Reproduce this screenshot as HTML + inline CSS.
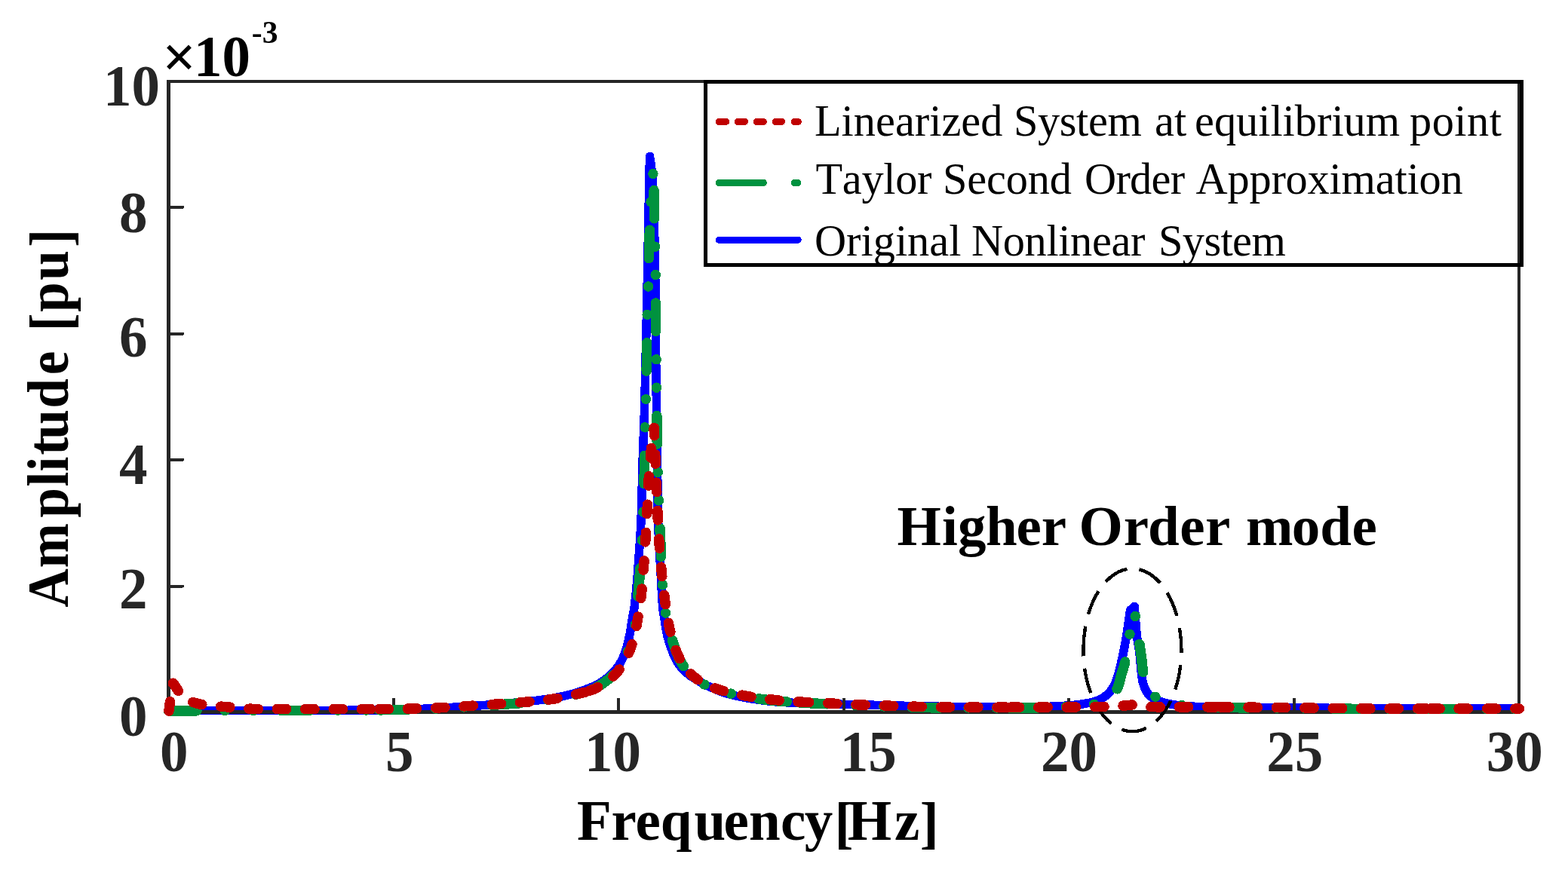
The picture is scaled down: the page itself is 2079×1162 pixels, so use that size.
<!DOCTYPE html>
<html lang="en"><head><meta charset="utf-8"><title>Frequency spectrum</title>
<style>html,body{margin:0;padding:0;background:#fff;overflow:hidden}svg{display:block}text{font-family:"Liberation Serif","DejaVu Serif",serif;white-space:pre}.b{font-weight:bold;font-size:75px}.t{fill:#262626}.l{font-size:58.33px;fill:#000}.c{fill:none;stroke-linejoin:round;stroke-linecap:round}</style>
</head><body>
<svg width="2079" height="1162" viewBox="0 0 2079 1162" shape-rendering="crispEdges">
<rect x="0" y="0" width="2079" height="1162" fill="#fff"/>
<path class="c" d="M223.5 942.4L297.6 942.3L441.7 942.4L481.8 942.1L527.8 941.3L541.8 941L557.8 940.4L583.8 939.3L593.8 938.7L639.8 935.6L667.7 933.4L683.7 932.1L697.6 930.7L711.6 929.2L723.5 927.6L733.3 926.1L741.2 924.6L751 922.4L760.7 919.9L768.3 917.6L775.9 914.9L785.2 911.2L790.7 908.7L794.2 906.8L795.9 905.7L800.9 902.4L805.7 898.6L808.7 896L811.6 893.3L815.7 888.8L818.2 885.7L819.4 884.1L821.6 880.8L824.5 875.6L827.1 870.1L829.2 864.4L831.5 856.8L833.4 849L835.1 841.1L836.1 835.2L838.6 819.4L841.1 805.6L841.6 801.6L842.5 793.7L843.9 779.8L845.1 765.8L848.5 717.8L849.6 699.8L850.2 685.8L852.4 601.8L852.8 589.8L853.8 565.8L854.7 537.8L856.1 475.7L857.9 395.7L859.9 287.6L861.5 207.5L863 217.4L864.1 225.4L864.8 231.3L865.3 237.3L866.1 257.3L867.2 297.3L868.2 327.3L868.4 337.3L868.7 361.3L869.4 453.4L870.5 545.5L871.4 595.5L871.9 651.5L872.2 673.6L872.8 695.6L873.6 717.6L875.6 751.5L877.6 789.5L878.6 805.5L879.3 811.4L880.7 819.3L882.5 831.2L883.5 837.2L884.8 843L886.3 848.8L888.8 856.5L891.5 864L893 867.7L894.7 871.4L897.3 876.8L899.4 880.2L901.7 883.4L902.9 885L905.6 888.1L908.5 890.9L909.9 892.2L913 894.7L916.2 897.1L921.3 900.4L928.2 904.5L933.4 907.4L938.8 910.1L944.3 912.6L951.7 915.7L957.3 917.8L963 919.7L968.8 921.3L976.6 923.2L984.4 924.8L994.3 926.5L1004.2 928.1L1012.1 929.1L1020.1 930.1L1028.1 930.8L1040 931.6L1050 932.2L1062 932.8L1078 933.4L1092 933.8L1134.1 934.6L1188.1 936L1234.1 937.1L1254.1 937.4L1270.1 937.6L1334.2 937.8L1382.2 937.8L1388.2 937.5L1398.2 936.9L1414.2 936.1L1420.2 935.7L1428.2 934.9L1436.1 933.8L1442 932.7L1445.9 931.9L1451.8 930.3L1455.6 928.9L1457.5 928.2L1461 926.5L1462.6 925.5L1464.3 924.4L1467.6 921.8L1469.1 920.4L1471.8 917.4L1474.2 914.4L1475.3 912.7L1477.3 909.2L1478.2 907.3L1479.8 903.6L1481.1 899.9L1482.3 896.1L1483.9 890.2L1485.8 882.4L1488 872.7L1491.6 855L1493.3 845.2L1495.2 833.3L1498.5 809.5L1504.2 804.3L1505.7 824.3L1506.7 836.3L1507.5 844.2L1508.3 850.2L1510.1 860.1L1510.7 864L1513.3 892L1514 898L1514.9 903.8L1516 907.8L1516.6 909.7L1518.2 913.5L1520 917L1521 918.6L1522.2 920.2L1523.6 921.8L1525.1 923.3L1526.7 924.6L1528.3 925.8L1529.9 926.7L1533.3 928.4L1538.9 930.6L1544.9 932.4L1550.9 933.8L1558.8 935.2L1566.7 936.2L1572.7 936.8L1582.7 937.2L1592.7 937.5L1634.8 938.3L1690.9 938.9L1789.1 939.4L1843.2 939.5L2013.5 939.5" stroke="#0000FF" stroke-width="11.50"/>
<g stroke="#262626" fill="none">
<line x1="223.50" y1="106.00" x2="223.50" y2="947.00" stroke-width="5.00"/>
<line x1="2014.00" y1="106.00" x2="2014.00" y2="947.00" stroke-width="4.00"/>
<line x1="221.00" y1="108.00" x2="2016.00" y2="108.00" stroke-width="4.00"/>
<line x1="221.00" y1="944.50" x2="2016.00" y2="944.50" stroke-width="5.00"/>
<line x1="522.00" y1="944.50" x2="522.00" y2="926.00" stroke-width="4.00"/>
<line x1="820.00" y1="944.50" x2="820.00" y2="926.00" stroke-width="4.00"/>
<line x1="1119.00" y1="944.50" x2="1119.00" y2="926.00" stroke-width="4.00"/>
<line x1="1417.00" y1="944.50" x2="1417.00" y2="926.00" stroke-width="4.00"/>
<line x1="1715.50" y1="944.50" x2="1715.50" y2="926.00" stroke-width="4.00"/>
<line x1="223.50" y1="275.00" x2="242.00" y2="275.00" stroke-width="4.00" stroke-linecap="round"/>
<line x1="223.50" y1="443.00" x2="242.00" y2="443.00" stroke-width="4.00" stroke-linecap="round"/>
<line x1="223.50" y1="610.00" x2="242.00" y2="610.00" stroke-width="4.00" stroke-linecap="round"/>
<line x1="223.50" y1="777.50" x2="242.00" y2="777.50" stroke-width="4.00" stroke-linecap="round"/>
</g>
<path class="c" d="M223.5 943L260.9 942.8M298.3 942.6L298.3 942.6M335.7 942.5L335.7 942.5M373.1 942.4L410.5 942.3M447.9 942.2L447.9 942.2M485.3 942L485.3 942M503 941.8L540.4 941.3M577.8 940.2L577.8 940.2M615.1 937.9L615.1 937.9M652.4 935.4L689.7 932.7M726.9 928.7L726.9 928.7M763.6 921.4L763.6 921.4M781.6 916.1L785.3 914.6L788.9 913L792.5 911L797.6 907.8L802.5 904.3L805.7 901.9L808.8 899.3L812.6 895.7M832.3 864.2L832.3 864.2M842.3 828.3L842.3 828.3M845.8 791L847.8 768.5L848.9 753.8M851.3 716.5L851.3 716.4M852.8 679.1L852.8 679.1M854 641.7L854.4 622.6L854.7 604.3M855.3 566.9L855.3 566.9M856.5 529.5L856.5 529.5M857.2 492.1L857.7 454.7M858.2 417.3L858.2 417.3M859.6 380L859.6 380M860.3 342.6L860.7 324.6L861.4 305.2M863.1 267.8L863.1 267.8M865.9 230.5L865.9 230.5M867.1 252.4L867.6 289.8M868.7 327.2L868.7 327.2M869.2 364.6L869.2 364.6M869.3 402L869.4 422.9L869.6 439.4M870.2 476.8L870.2 476.8M870.5 514.2L870.5 514.2M870.8 551.6L871.3 589M872.2 626.4L872.2 626.4M873.6 663.7L873.6 663.8M875.1 701.1L876.5 738.5M878.5 775.8L878.5 775.9M882.5 813L882.5 813M891.5 849.3L893.4 855.5L895.3 861.2L896.7 865L898.2 868.6L899.9 872.3L901.7 875.9L903.7 879.4L906.3 883.5M934 908L934 908M969.3 920.1L969.3 920.1M1006.1 926.9L1015.1 928.1L1023.1 929L1033 930L1043.3 930.8M1059.7 931.9L1073 932.7L1097.1 933.8M1134.4 935.6L1134.4 935.6M1171.8 937L1171.8 937M1209.2 938.1L1231 938.7L1246.6 939M1284 939L1284 939M1321.4 939L1321.4 939M1338.5 939L1375.9 939M1413.3 937.6L1413.3 937.6M1450.5 934.4L1450.5 934.4M1481.1 913.8L1481.7 912.8L1482.4 911.1L1483.7 907.3L1486.1 897.3L1490.2 883.9L1491.7 878M1498 841.2L1498 841.2M1505.2 817.4L1505.2 817.5M1510.9 854.4L1513.5 872.1L1515 886.1L1515.7 891.5M1531.9 924.2L1531.9 924.2M1567 935.5L1567 935.5M1604.3 938.3L1618.1 938.5M1618.1 938.5L1655.5 938.9M1692.9 939.1L1692.9 939.1M1730.3 939.5L1730.3 939.5M1767.7 940L1805.1 940.4M1842.5 940.6L1842.5 940.6M1879.9 940.6L1879.9 940.6M1896.6 940.6L1934 940.6M1971.4 940.6L1971.4 940.6M2008.8 940.6L2008.8 940.6" stroke="#00923F" stroke-width="13.50"/>
<path d="M1436.4 862.3A65 108 0 1 1 1566.4 862.3A65 108 0 1 1 1436.4 862.3" fill="none" stroke="#000" stroke-width="4.4" stroke-linecap="butt" stroke-dasharray="33.3 16.2" stroke-dashoffset="1.5"/>
<path class="c" d="M223.9 943.1L225.5 930.8M229.3 906.3L229.4 906.2L230.4 907.1L232.9 911.1L236.4 916.3M255.8 931.4L258.5 932.3L262.3 933.4L264.3 933.9L267.8 934.5M292.6 937.1L305 938.1M329.9 940.2L342.3 940.4M367.3 940.6L379.7 940.6M404.7 940.6L417.1 940.6M442.1 940.6L454.5 940.6M479.5 940.6L491.9 940.5M502.9 940.5L515.3 940.4M540.3 940.1L552.7 939.8M577.7 939L590.1 938.5M615 936.9L627.4 936.1M652.3 934.5L664.7 933.6M689.6 931.8L702 930.8M726.9 928.1L734 927.1L739.1 926.3M763.6 921L775.6 918.2M781.3 916.5L786.5 914.6L790.1 912.9L792.7 911.6M813 897.1L814.7 895.4L817.4 892.6L820 889.6L821.3 887.9M833.7 866.2L835.6 861.6L838 854.6M843.9 830.4L846 818.1M849.8 793.4L851.1 781.1M853.1 756.2L854.1 743.8M855.7 718.9L856.5 706.5M857.8 681.5L858.4 669.2M859.7 644.2L860.4 631.8M862.4 606.9L863.5 594.5M866.8 569.8L867.2 567.6L867.7 577.8M868.7 602.8L869.3 615.2M870.3 640.1L870.8 652.5M871.8 677.5L872.3 689.9M873.7 714.9L874.5 727.2M876.6 752.1L877.8 764.5M880.7 789.3L882.3 801.6M886.3 826.3L887.5 832.7L888.9 838.4M896.1 862.3L897.2 865.3L898.8 869L901.1 873.7M915.8 893.8L920.1 897.7L923.2 900.2L925.3 901.7M947.6 912.9L951.9 914.4L959.4 916.6M983.7 922.2L996 924.3M1020.7 927.8L1033.1 929M1058 930.8L1060.3 931M1060.3 931L1072.7 931.7M1097.7 932.8L1110 933.4M1135 934.7L1147.4 935.2M1172.4 936L1184.8 936.4M1209.8 937.1L1222.2 937.5M1247.2 938L1259.6 938M1284.6 938.1L1297 938.1M1322 938.2L1334.4 938.2M1339.4 938.2L1351.8 938.2M1376.8 938.2L1389.2 938.2M1414.2 938.1L1426.6 938M1451.6 937.6L1464 937.4M1489 936.2L1501.3 934.9M1525.9 937.7L1538.3 937.8M1563.3 937.8L1575.7 937.8M1600.7 937.8L1613.1 937.8M1617.6 937.8L1630 937.9M1655 938.1L1667.4 938.3M1692.4 938.5L1704.8 938.6M1729.8 938.9L1742.2 939.1M1767.2 939.4L1779.6 939.5M1804.6 939.8L1817 939.9M1842 940L1854.4 940M1879.4 940L1891.8 940M1896.7 940L1909.1 940M1934.1 940L1946.5 940M1971.5 940L1983.9 940M2008.9 940L2014.3 940" stroke="#C00000" stroke-width="13.50"/>
<rect x="935.50" y="108.50" width="1082.00" height="243.00" fill="#fff" stroke="#000" stroke-width="5.00"/>
<rect x="2012.00" y="111.00" width="3.00" height="238.00" fill="#262626"/>
<path d="M953.25 161.45H962.60M978.25 161.45H987.50M1003.25 161.45H1012.40M1028.25 161.45H1036.50M1053.25 161.45H1058.40" fill="none" stroke="#C00000" stroke-width="9.00" stroke-linecap="round"/>
<path d="M953.25 242.40H1012.40M1053.25 242.40H1058.00" fill="none" stroke="#00923F" stroke-width="9.00" stroke-linecap="round"/>
<path d="M953.25 318.25H1058.20" fill="none" stroke="#0000FF" stroke-width="9.00" stroke-linecap="round"/>
<text class="b t" transform="translate(212 1022.5) scale(1 1.030)">0</text>
<text class="b t" transform="translate(511 1022.5) scale(1 1.030)">5</text>
<text class="b t" transform="translate(775 1022.5) scale(1 1.030)">10</text>
<text class="b t" transform="translate(1113.7 1022.5) scale(1 1.030)">15</text>
<text class="b t" transform="translate(1380 1022.5) scale(1 1.030)">20</text>
<text class="b t" transform="translate(1679.3 1022.5) scale(1 1.030)">25</text>
<text class="b t" transform="translate(1970.7 1022.5) scale(1 1.030)">30</text>
<text class="b t" transform="translate(158 976) scale(1 1.030)">0</text>
<text class="b t" transform="translate(158 806.9) scale(1 1.030)">2</text>
<text class="b t" transform="translate(158 641.9) scale(1 1.030)">4</text>
<text class="b t" transform="translate(158 473.4) scale(1 1.030)">6</text>
<text class="b t" transform="translate(158 308.2) scale(1 1.030)">8</text>
<text class="b t" transform="translate(137 140) scale(1 1.030)">10</text>
<text class="b" fill="#000" transform="translate(215.2 101.8)" style="font-weight:bold;font-size:78.70px">×</text>
<text class="b" fill="#000" transform="translate(257 101) scale(1 1.030)">10</text>
<text class="b" fill="#000" transform="translate(333.8 57) scale(1 1.030)" style="font-size:41.67px">-3</text>
<text class="b" fill="#000" transform="translate(0 1113.8) scale(1 1.020)" x="765 810.5 842.4 875.7 920.4 959.4 993 1034.9 1066.8 1106.4 1123.7 1186 1219.8" dy="0 0 0 0 0 0 0 0 0 3.6 -3.6 0 3.6">Frequency[Hz]</text>
<text class="b" fill="#000" transform="translate(89.6 805.7) rotate(-90) scale(0.95 1.040)" x="0 54.9 125.3 168.7 189.8 212.5 234.7 277.9 324.8 363.2 385.7 412.4 456.9 503.2" dy="0 0 0 0 0 0 0 0 0 0 3.6 -3.6 0 3.6">Amplitude [pu]</text>
<text class="b" fill="#000" transform="translate(0 722.5)" x="1189.5 1249.1 1269.9 1307 1347.4 1380.7 1412 1430.4 1489.8 1522 1564.3 1598 1630 1651.9 1712.7 1750.2 1792.4">Higher Order mode</text>
<text class="l" transform="translate(0 180) scale(1 1.020)" x="1080 1115.6 1131.8 1161 1186.9 1212.8 1232.2 1248.4 1274.3 1300.2 1329.4 1344 1376 1404.8 1427.1 1442.9 1468.4 1513.8 1531 1556.9 1573.1 1584 1609.9 1639.1 1668.2 1684.4 1700.6 1716.8 1746 1765.4 1781.6 1810.8 1856.2 1869 1898.7 1928.3 1945 1974.7">Linearized System at equilibrium point</text>
<text class="l" transform="translate(0 256.8) scale(1 1.020)" x="1081.5 1116.8 1142.4 1171.3 1187.2 1216.1 1235.5 1250 1282.3 1308 1333.8 1362.8 1391.8 1421 1438 1479.4 1498.1 1526.6 1551.8 1571.2 1585.5 1627.4 1656.4 1685.4 1704.6 1733.5 1762.5 1778.5 1823.7 1849.4 1865.4 1881.4 1910.4">Taylor Second Order Approximation</text>
<text class="l" transform="translate(0 338.6) scale(1 1.020)" x="1080 1122.1 1141.5 1157.8 1186.9 1203.1 1232.3 1258.2 1274.4 1288 1329.8 1358.6 1387.4 1403.3 1419.1 1447.9 1473.5 1499 1518.4 1536 1567.8 1596.4 1618.5 1634.1 1659.4">Original Nonlinear System</text>
</svg>
</body></html>
